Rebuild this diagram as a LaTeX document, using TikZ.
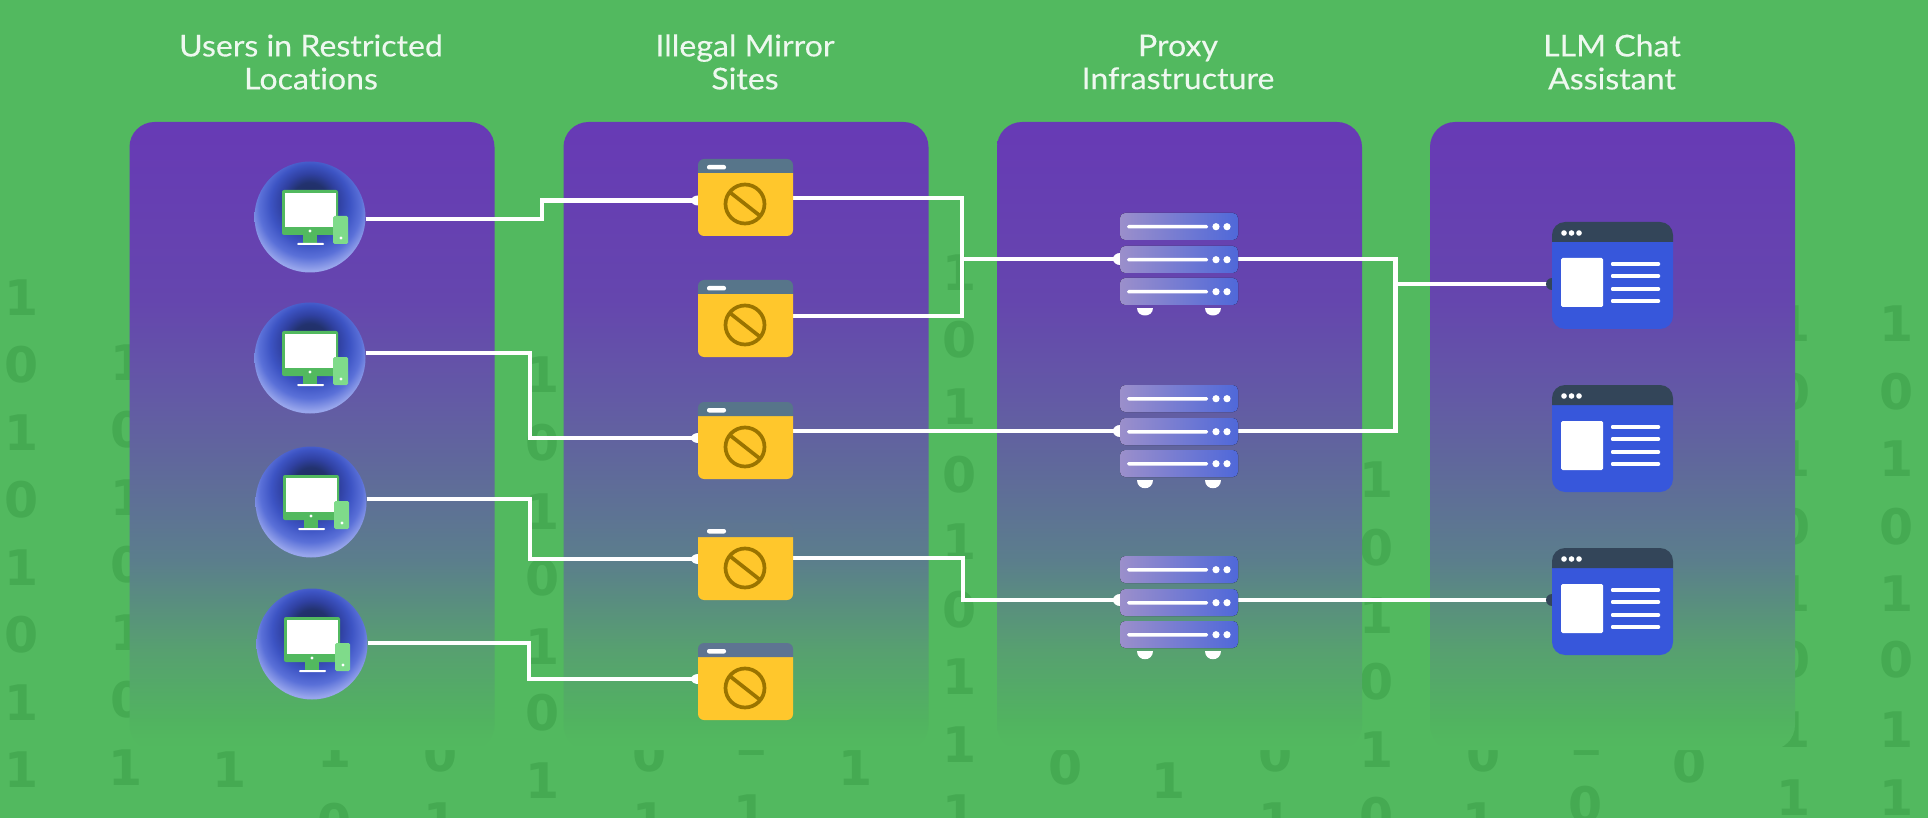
\documentclass[tikz,border=0pt]{standalone}
\usepackage{fontspec}
\setmainfont[FakeStretch=1.07,FakeBold=0.25,Ligatures=NoCommon]{Lato}
\newfontfamily\bitfont{DejaVu Sans}
\definecolor{bgG}{HTML}{52B95F}
\definecolor{bitG}{HTML}{45AA52}
\definecolor{pA}{HTML}{673AB5}
\definecolor{pB}{HTML}{6546AE}
\definecolor{pC}{HTML}{635AA5}
\definecolor{pD}{HTML}{5E7096}
\definecolor{pE}{HTML}{5B7E8C}
\definecolor{pF}{HTML}{57A070}
\definecolor{pG}{HTML}{51B360}
\definecolor{pH}{HTML}{52B85F}
\definecolor{gA}{HTML}{1E2C60}
\definecolor{gB}{HTML}{22326E}
\definecolor{gC}{HTML}{3041A2}
\definecolor{gD}{HTML}{3D54C4}
\definecolor{gE}{HTML}{5A70D8}
\definecolor{gF}{HTML}{98A6EC}
\definecolor{yel}{HTML}{FFC72C}
\definecolor{hdr}{HTML}{57758A}
\definecolor{hdrB}{HTML}{5E7691}
\definecolor{hdrC}{HTML}{5E7492}
\definecolor{ban}{HTML}{9A7400}
\definecolor{srvL}{HTML}{9B8FCB}
\definecolor{srvR}{HTML}{4F68D9}
\definecolor{chatH}{HTML}{334559}
\definecolor{chatB}{HTML}{3757DB}
\definecolor{phone}{HTML}{7FDB8A}
\definecolor{ttl}{HTML}{EEF8EF}
\pgfdeclareverticalshading{panelfade}{100bp}{color(0bp)=(bgG); color(25bp)=(bgG); color(25.8bp)=(pH); color(27.4bp)=(pG); color(33bp)=(pF); color(40.1bp)=(pE); color(44.9bp)=(pD); color(52.9bp)=(pC); color(60.8bp)=(pB); color(75bp)=(pA); color(100bp)=(pA)}
\pgfdeclareradialshading{globe}{\pgfpoint{0bp}{9bp}}{color(0bp)=(gA); color(8bp)=(gB); color(13bp)=(gC); color(18bp)=(gD); color(23bp)=(gE); color(28bp)=(gF); color(50bp)=(gF)}
\tikzset{
  panel/.style={rectangle,rounded corners=25pt,minimum width=365pt,minimum height=628pt,inner sep=0pt,outer sep=0pt,shade,shading=panelfade},
  bit/.style={font=\bitfont\bfseries\fontsize{49}{49}\selectfont,text=bitG,inner sep=0pt},
  ttlnode/.style={font=\fontsize{30}{33}\selectfont,text=ttl,align=center,inner sep=0pt},
  globe/.style={circle,minimum size=111pt,inner sep=0pt,outer sep=0pt,shade,shading=globe},
  slot/.style={rectangle,inner sep=0pt,outer sep=0pt},
  wire/.style={draw=white,line width=4.5pt,line join=miter,line cap=butt},
}
\newcommand{\deskicon}[2]{%
  \begin{scope}[shift={(#1,#2)}]
    \fill[bgG,rounded corners=2pt] (-28,-27) rectangle (28,18);
    \fill[white] (-25,-24) rectangle (26,10);
    \fill[white] (0,14) circle[radius=1.6pt];
    \fill[bgG] (-7,18) rectangle (7,26);
    \fill[white,rounded corners=1pt] (-13,26) rectangle (14,28);
    \fill[phone,rounded corners=1.5pt] (23,-1) rectangle (38,27);
    \fill[white] (31,21) circle[radius=1.6pt];
  \end{scope}}
\newcommand{\siteicon}[3]{%
  \begin{scope}[shift={(#1,#2)}]
    \fill[yel,rounded corners=6pt] (0,14) -- (0,77) -- (95,77) -- (95,14);
    \fill[#3,rounded corners=6pt] (0,14) -- (0,0) -- (95,0) -- (95,14);
    \fill[white,rounded corners=2pt] (9,6) rectangle (28,10.5);
    \draw[ban,line width=3.7pt] (47,45) circle[radius=19.5pt];
    \draw[ban,line width=3.7pt] (33,34) -- (61,56);
  \end{scope}}
\newcommand{\rackunit}[1]{%
  \fill[left color=srvL,right color=srvR,rounded corners=5pt] (0,#1) rectangle (118,#1+27);
  \fill[white,rounded corners=1.5pt] (7,#1+12) rectangle (88,#1+15.5);
  \fill[white] (96,#1+13.7) circle[radius=3.6pt];
  \fill[white] (107,#1+13.7) circle[radius=3.6pt];}
\newcommand{\rackicon}[2]{%
  \begin{scope}[shift={(#1,#2)}]
    \rackunit{0}\rackunit{33}\rackunit{65}
    \fill[white] (16.5,95) .. controls (16.5,105.5) and (32.5,105.5) .. (32.5,95) -- cycle;
    \fill[white] (85,95) .. controls (85,105.5) and (101,105.5) .. (101,95) -- cycle;
  \end{scope}}
\newcommand{\chaticon}[2]{%
  \begin{scope}[shift={(#1,#2)}]
    \fill[chatB,rounded corners=13pt] (0,20) -- (0,107) -- (121,107) -- (121,20);
    \fill[chatH,rounded corners=13pt] (0,20) -- (0,0) -- (121,0) -- (121,20);
    \fill[white] (12,11) circle[radius=2.8pt];
    \fill[white] (19.5,11) circle[radius=2.8pt];
    \fill[white] (27,11) circle[radius=2.8pt];
    \fill[white,rounded corners=1.5pt] (9,36) rectangle (51,85);
    \foreach \ly in {42,54,67,79}
      \fill[white,rounded corners=1pt] (59,\ly-1.8) rectangle (108,\ly+1.8);
  \end{scope}}
\begin{document}
\begin{tikzpicture}[x=1pt,y=-1pt]
\useasboundingbox (0,0) rectangle (1928,818);
\fill[bgG] (0,0) rectangle (1928,818);
% binary digits behind the panels
\foreach \d/\x/\y in {
 1/22/298,0/22/365,1/22/433,0/22/500,1/22/568,0/22/635,1/22/703,1/22/770,
 1/128/363,0/128/430,1/128/498,0/128/565,1/128/633,0/128/700,1/126/768,
 1/230/770,1/335/750,0/335/822,0/441/754,1/441/821,
 1/543/375,0/543/443,1/543/512,0/543/578,1/543/647,0/543/713,1/543/781,
 0/650/754,1/650/821,1/751/738,1/751/813,1/856/768,
 1/960/273,0/960/340,1/960/407,0/960/475,1/960/542,0/960/610,1/960/677,1/960/745,1/960/813,
 0/1066/767,1/1169/781,0/1276/754,1/1276/821,
 1/1377/480,0/1377/548,1/1377/616,0/1377/682,1/1377/750,0/1377/816,
 0/1484/754,1/1480/821,1/1586/738,0/1586/805,0/1690/765,
 1/1794/324,0/1794/392,1/1794/459,0/1794/527,1/1794/594,0/1794/660,1/1794/730,1/1794/798,
 1/1897/324,0/1897/392,1/1897/459,0/1897/527,1/1897/594,0/1897/660,1/1897/730,1/1897/798}
  \node[bit] (bit\x-\y) at (\x,\y) {\d};
% panels
\node[panel] (p1) at (312,436) {};
\node[panel] (p2) at (746,436) {};
\node[panel] (p3) at (1179.5,436) {};
\node[panel] (p4) at (1612.5,436) {};
% titles
\node[ttlnode] (t1) at (311,62) {Users in Restricted\\Locations};
\node[ttlnode] (t2) at (745,62) {Illegal Mirror\\Sites};
\node[ttlnode] (t3) at (1178,62) {Proxy\\Infrastructure};
\node[ttlnode] (t4) at (1612,62) {LLM Chat\\Assistant};
% user globes
\node[globe] (u1) at (310,217) {};
\node[globe] (u2) at (310,358) {};
\node[globe] (u3) at (311,502) {};
\node[globe] (u4) at (312,644) {};
% icon slots
\foreach \n/\y in {1/159,2/280,3/402,4/523,5/643}
  \node[slot,minimum width=95pt,minimum height=77pt] (b\n) at (745.5,\y+38.5) {};
\foreach \n/\y in {1/213,2/385,3/556}
  \node[slot,minimum width=118pt,minimum height=92pt] (s\n) at (1179,\y+46) {};
\foreach \n/\y in {1/222,2/385,3/548}
  \node[slot,minimum width=121pt,minimum height=107pt] (c\n) at (1612.5,\y+53.5) {};
\coordinate (j1) at (962,259);
\coordinate (j2) at (1395.5,284);
% connectors
\draw[wire] ([yshift=-2pt]u1.east) -- (542,219) -- (542,200.5) -- ([yshift=-3pt]b1.west);
\draw[wire] ([yshift=5pt]u2.east) -- (530,353) -- (530,438) -- ([yshift=2.5pt]b3.west);
\draw[wire] ([yshift=3pt]u3.east) -- (530,499) -- (530,559) -- ([yshift=2.5pt]b4.west);
\draw[wire] ([yshift=1pt]u4.east) -- (529,643) -- (529,679) -- ([yshift=2.5pt]b5.west);
\draw[wire] ([yshift=-0.5pt]b1.east) -- (962,198) -- (962,316) -- ([yshift=2.5pt]b2.east);
\draw[wire] (j1) -- (s1.west);
\draw[wire] ([yshift=9.5pt]b3.east) -- (s2.west);
\draw[wire] ([yshift=3.5pt]b4.east) -- (963,558) -- (963,600) -- ([yshift=2pt]s3.west);
\draw[wire] (s1.east) -- (1395.5,259) -- (1395.5,431) -- (s2.east);
\draw[wire] (j2) -- ([yshift=-8.5pt]c1.west);
\draw[wire] ([yshift=2pt]s3.east) -- ([yshift=1.5pt]c3.west);
% terminals
\fill[white] ([yshift=-3pt]b1.west) ellipse[x radius=7pt,y radius=5pt];
\fill[white] ([yshift=2.5pt]b3.west) ellipse[x radius=7pt,y radius=5pt];
\fill[white] ([yshift=2.5pt]b4.west) ellipse[x radius=7pt,y radius=5pt];
\fill[white] ([yshift=2.5pt]b5.west) ellipse[x radius=7pt,y radius=5pt];
\fill[white] (s1.west) ellipse[x radius=7pt,y radius=6pt];
\fill[white] (s2.west) ellipse[x radius=7pt,y radius=6pt];
\fill[white] ([yshift=2pt]s3.west) ellipse[x radius=7pt,y radius=6pt];
\fill[chatH] ([yshift=-8.5pt]c1.west) ellipse[x radius=6pt,y radius=6pt];
\fill[chatH] ([yshift=1.5pt]c3.west) ellipse[x radius=6pt,y radius=6pt];
% icon drawings
\deskicon{310}{217}\deskicon{310}{358}\deskicon{311}{502}\deskicon{312}{644}
\siteicon{698}{159}{hdr}\siteicon{698}{280}{hdr}\siteicon{698}{402}{hdr}\siteicon{698}{523}{hdrB}\siteicon{698}{643}{hdrC}
\rackicon{1120}{213}\rackicon{1120}{385}\rackicon{1120}{556}
\chaticon{1552}{222}\chaticon{1552}{385}\chaticon{1552}{548}
\end{tikzpicture}
\end{document}
